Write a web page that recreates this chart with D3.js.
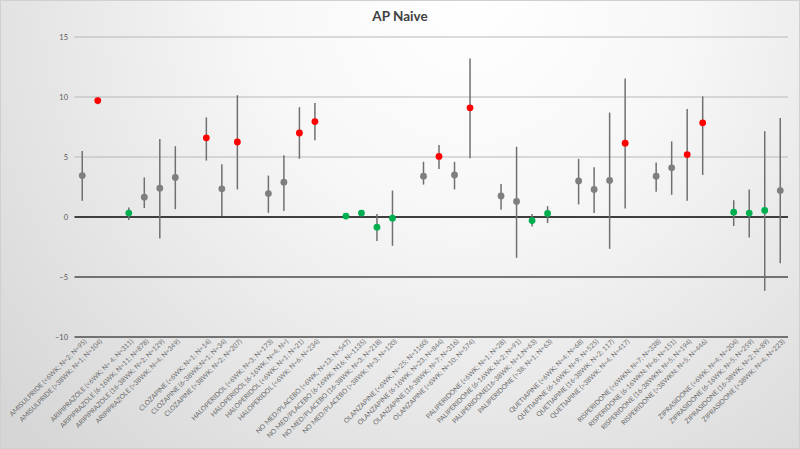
<!DOCTYPE html>
<html><head><meta charset="utf-8">
<script src="https://cdn.jsdelivr.net/npm/d3@7"></script>
<style>body{margin:0;background:#fff}svg{display:block}</style>
</head><body>
<svg id="c" width="800" height="449"></svg>
<script>
// ---- data ----
const categories = [
"AMISULPRIDE (<6WK; N=2; N=95)","AMISULPRIDE (>38WK; N=1; N=104)","",
"ARIPIPRAZOLE (<6WK; N= 4; N=311)","ARIPIPRAZOLE (6-16WK; N=11; N=878)","ARIPIPRAZOLE (16-38WK; N=2; N=129)","ARIPIPRAZOLE (>38WK; N=4; N=349)","",
"CLOZAPINE (<6WK; N=1; N=14)","CLOZAPINE (6-38WK;N=1; N=34)","CLOZAPINE (>38WK; N=2; N=207)","",
"HALOPERIDOL (<6WK; N=3; N=173)","HALOPERIDOL (6-16WK; N=4; N=)","HALOPERIDOL (<6WK; N=1; N=21)","HALOPERIDOL (<6WK; N=6; N=234)","",
"NO MED/PLACEBO (<6WK; N=13; N=547)","NO MED/PLACEBO (6-16WK; N16; N=1135)","NO MED/PLACEBO (16-38WK; N=3; N=218)","NO MED/PLACEBO (>38WK; N=3; N=120)","",
"OLANZAPINE (<6WK; N=25; N=1160)","OLANZAPINE (6-16WK; N=23; N=844)","OLANZAPINE (16-38WK; N=7; N=316)","OLANZAPINE (<6WK; N=10; N=574)","",
"PALIPERIDONE (<6WK; N=1; N=28)","PALIPERIDONE (6-16WK; N=2; N=91)","PALIPERIDONE(16-38WK; N=1;N=63)","PALIPERIDONE (>38; N=1; N=63)","",
"QUETIAPINE (<6WK; N=4; N=68)","QUETIAPINE (6-16WK; N=9; N=525)","QUETIAPINE (16-38WK; N=2; 117)","QUETIAPINE (>38WK; N=4; N=417)","",
"RISPERIDONE (<6WKN; N=7; N=338)","RISPERIDONE (6-16WKN; N=6; N=151)","RISPERIDONE (16-38WKN; N=5; N=194)","RISPERIDONE (>38WKN; N=5; N=446)","",
"ZIPRASIDONE (<6WK; N=4; N=204)","ZIPRASIDONE (6-16WK; N=5; N=259)","ZIPRASIDONE (16-38WK; N=2; N=89)","ZIPRASIDONE (>38WK; N=4; N=223)"
];
const values = [
3.45, 9.7, null,
0.33, 1.65, 2.4, 3.3, null,
6.6, 2.35, 6.25, null,
1.95, 2.9, 7.0, 7.95, null,
0.08, 0.33, -0.85, -0.1, null,
3.4, 5.05, 3.5, 9.1, null,
1.75, 1.3, -0.3, 0.3, null,
3.0, 2.3, 3.05, 6.15, null,
3.4, 4.1, 5.2, 7.85, null,
0.4, 0.33, 0.55, 2.2
];
const lower = [
1.35, 9.4, null,
-0.25, 0.75, -1.8, 0.65, null,
4.7, 0.08, 2.3, null,
0.35, 0.5, 4.85, 6.4, null,
0.0, 0.25, -2.0, -2.4, null,
2.7, 4.0, 2.3, 4.9, null,
0.6, -3.4, -0.8, -0.5, null,
1.05, 0.33, -2.65, 0.7, null,
2.1, 1.85, 1.35, 3.5, null,
-0.75, -1.7, -6.15, -3.85
];
const upper = [
5.5, 10.0, null,
0.8, 3.3, 6.5, 5.9, null,
8.3, 4.4, 10.15, null,
3.45, 5.15, 9.15, 9.5, null,
0.15, 0.4, 0.25, 2.2, null,
4.6, 6.0, 4.6, 13.2, null,
2.75, 5.85, 0.25, 0.9, null,
4.85, 4.15, 8.7, 11.55, null,
4.55, 6.3, 9.0, 10.05, null,
1.4, 2.3, 7.15, 8.25
];
// r = red, g = green, n = neutral grey
const status = [
"n","r",null,
"g","n","n","n",null,
"r","n","r",null,
"n","n","r","r",null,
"g","g","g","g",null,
"n","r","n","r",null,
"n","n","g","g",null,
"n","n","n","r",null,
"n","n","r","r",null,
"g","g","g","n"
];
const yTicks = [-10, -5, 0, 5, 10, 15];
const title = "AP Naive";

// ---- drawing ----
const W = 800, H = 449;
const FONT = "Lato, 'Open Sans', sans-serif";
const svg = d3.select("#c");
const defs = svg.append("defs");
const grad = defs.append("radialGradient").attr("id","bg")
  .attr("gradientUnits","userSpaceOnUse").attr("cx",470).attr("cy",0).attr("r",620);
grad.append("stop").attr("offset","0%").attr("stop-color","#ffffff");
grad.append("stop").attr("offset","35%").attr("stop-color","#f7f7f7");
grad.append("stop").attr("offset","100%").attr("stop-color","#d6d6d6");
svg.append("rect").attr("x",0.5).attr("y",0.5).attr("width",W-1).attr("height",H-1)
  .attr("fill","url(#bg)").attr("stroke","#d0d0d0").attr("stroke-width",1);

const x = d3.scaleBand().domain(d3.range(categories.length)).range([74.5, 788]).padding(0);
const y = d3.scaleLinear().domain([-10, 15]).range([337, 37]);
const cx = i => x(i) + x.bandwidth()/2;

// gridlines
svg.append("g").selectAll("line").data(yTicks).join("line")
  .attr("x1", 74.5).attr("x2", 788)
  .attr("y1", d => y(d)).attr("y2", d => y(d))
  .attr("stroke", d => d === 0 ? "#3f3f3f" : (d < 0 ? "#4d4d4d" : "#b8b8b8"))
  .attr("stroke-width", d => d === 0 ? 2 : (d < 0 ? 1.3 : 1));

// y axis labels
const yAxis = d3.axisLeft(y).tickValues(yTicks).tickSize(0).tickPadding(0);
const ya = svg.append("g").attr("transform","translate(68,0)").call(yAxis);
ya.select(".domain").remove();
ya.selectAll("text").attr("font-family",FONT).attr("font-size",7.5).attr("fill","#595959");

// x axis labels
const xAxis = d3.axisBottom(x).tickSize(0).tickPadding(0).tickFormat(i => categories[i]);
const xa = svg.append("g").attr("transform","translate(2,339)").call(xAxis);
xa.select(".domain").remove();
const xt = xa.selectAll("text")
  .attr("font-family",FONT).attr("font-size",7).attr("fill","#6a6a6a")
  .attr("text-anchor","end").attr("dy","0.6em")
  .attr("transform","rotate(-45)");
// fit font so the first label spans ~106px like the reference
const firstLen = xt.filter((d,i) => i === 0).node().getComputedTextLength();
if (firstLen > 0) xt.attr("font-size", 7 * 106 / firstLen);

// error bars
const idx = d3.range(categories.length).filter(i => values[i] !== null);
svg.append("g").selectAll("line").data(idx).join("line")
  .attr("x1", cx).attr("x2", cx)
  .attr("y1", i => y(lower[i])).attr("y2", i => y(upper[i]))
  .attr("stroke", "#707070").attr("stroke-width", 1.5);

// points
const col = {r:"#ff0000", g:"#00b050", n:"#7f7f7f"};
svg.append("g").selectAll("circle").data(idx).join("circle")
  .attr("cx", cx).attr("cy", i => y(values[i])).attr("r", 3.4)
  .attr("fill", i => col[status[i]]);

// title
svg.append("text").attr("x", 400).attr("y", 21).attr("text-anchor","middle")
  .attr("font-family",FONT).attr("font-weight","bold")
  .attr("font-size",13.5).attr("fill","#404040").text(title);
</script>
</body></html>
